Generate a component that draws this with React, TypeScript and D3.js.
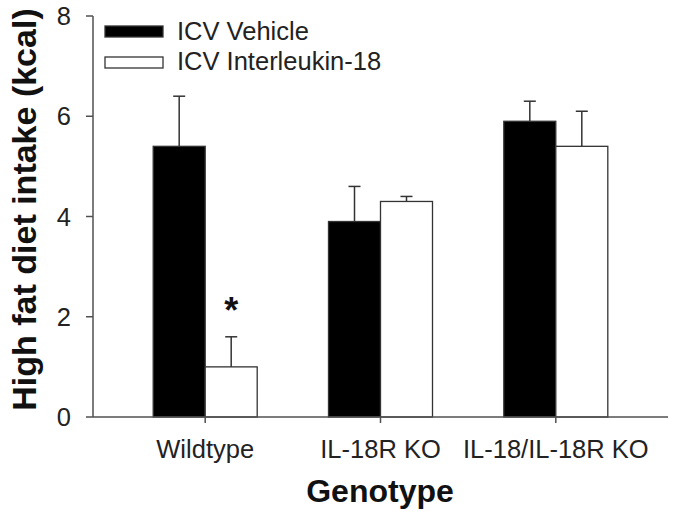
import React from "react";
import * as d3 from "d3";

const categories = ["Wildtype", "IL-18R KO", "IL-18/IL-18R KO"];
const seriesNames = ["ICV Vehicle", "ICV Interleukin-18"];
const vehicleMeans = [5.4, 3.9, 5.9];
const vehicleErrors = [1.0, 0.7, 0.4];
const il18Means = [1.0, 4.3, 5.4];
const il18Errors = [0.6, 0.1, 0.7];
const yTicks = [0, 2, 4, 6, 8];
const yTitle = "High fat diet intake (kcal)";
const xTitle = "Genotype";

const W = 679;
const H = 514;
const FONT = "'Liberation Sans', Arial, Helvetica, sans-serif";
const AXIS = "#505050";

export default function App() {
  const x0 = 93, x1 = 668, yTop = 16, yBot = 417;
  const y = d3.scaleLinear().domain([0, 8]).range([yBot, yTop]);
  const xc = d3.scalePoint<string>().domain(categories).range([x0, x1]).padding(0.64);
  const xs = d3.scaleBand<string>().domain(seriesNames).range([-52, 52]).padding(0);
  const bw = xs.bandwidth();
  const series = [
    { name: seriesNames[0], means: vehicleMeans, errs: vehicleErrors, fill: "#000" },
    { name: seriesNames[1], means: il18Means, errs: il18Errors, fill: "#fff" },
  ];
  return (
    <svg width={W} height={H} style={{ position: "absolute", left: 0, top: 0, background: "#fff" }} fontFamily={FONT}>
      {series.map((s) =>
        categories.map((c, i) => {
          const bx = (xc(c) as number) + (xs(s.name) as number);
          const top = y(s.means[i]);
          const cx = bx + bw / 2;
          const et = y(s.means[i] + s.errs[i]);
          return (
            <g key={s.name + c}>
              <line x1={cx} x2={cx} y1={top} y2={et} stroke="#333" strokeWidth={1.5} />
              <line x1={cx - 6} x2={cx + 6} y1={et} y2={et} stroke="#333" strokeWidth={1.5} />
              <rect x={bx} y={top} width={bw} height={yBot - top} fill={s.fill} stroke="#333" strokeWidth={1.3} />
            </g>
          );
        })
      )}
      <line x1={x0} x2={x0} y1={yTop} y2={yBot} stroke={AXIS} strokeWidth={1.5} />
      <line x1={x0} x2={x1} y1={yBot} y2={yBot} stroke={AXIS} strokeWidth={1.5} />
      {yTicks.map((t) => (
        <g key={t}>
          <line x1={x0 - 7} x2={x0} y1={y(t)} y2={y(t)} stroke={AXIS} strokeWidth={1.5} />
          <text x={71} y={y(t)} dy="0.36em" textAnchor="end" fontSize={25.5} fill="#222">{t}</text>
        </g>
      ))}
      {categories.map((c) => (
        <g key={c}>
          <line x1={xc(c)} x2={xc(c)} y1={yBot} y2={yBot + 6} stroke={AXIS} strokeWidth={1.5} />
          <text x={xc(c)} y={458} textAnchor="middle" fontSize={25.5} fill="#222">{c}</text>
        </g>
      ))}
      <text x={380} y={502} textAnchor="middle" fontSize={32} fontWeight="bold" fill="#111">{xTitle}</text>
      <text transform={`translate(36,${(yTop + yBot) / 2 - 7}) rotate(-90)`} textAnchor="middle" fontSize={34} fontWeight="bold" fill="#111">{yTitle}</text>
      <text x={(xc(categories[0]) as number) + (xs(seriesNames[1]) as number) + bw / 2} y={323} textAnchor="middle" fontSize={36} fontWeight="bold" fill="#111">*</text>
      {series.map((s, i) => (
        <g key={s.name}>
          <rect x={105} y={26 + i * 31} width={58} height={11} fill={s.fill} stroke="#333" strokeWidth={1.3} />
          <text x={177} y={40 + i * 30} fontSize={25.5} fill="#222">{s.name}</text>
        </g>
      ))}
    </svg>
  );
}
